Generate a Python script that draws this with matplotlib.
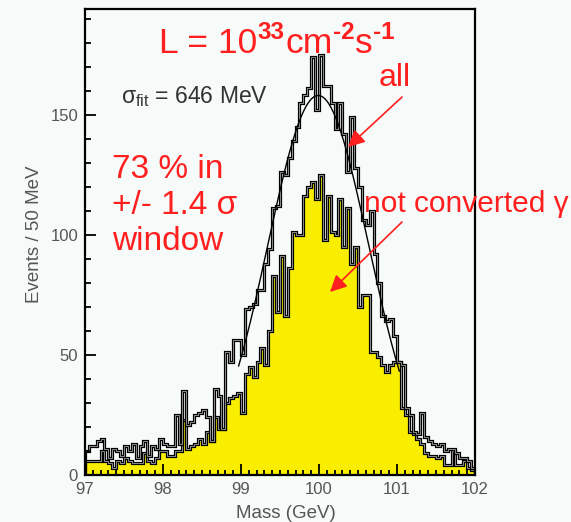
import numpy as np
import matplotlib
matplotlib.use("Agg")
import matplotlib.pyplot as plt
from matplotlib.ticker import MultipleLocator

plt.rcParams['font.family'] = ['Liberation Sans', 'DejaVu Sans']
plt.rcParams['mathtext.fontset'] = 'custom'
plt.rcParams['mathtext.rm'] = 'Liberation Sans'
plt.rcParams['mathtext.it'] = 'Liberation Sans:italic'
plt.rcParams['mathtext.bf'] = 'Liberation Sans:bold'

# Diphoton mass spectrum, 50 MeV bins from 97 to 102 GeV
mass_lo, mass_hi, n_bins = 97.0, 102.0, 100

all_counts = [
    10, 12, 12, 14, 15, 11, 7, 11, 10, 8,
    12, 10, 13, 7, 12, 14, 8, 12, 11, 15,
    13, 12, 12, 25, 13, 35, 21, 22, 25, 26,
    27, 24, 14, 36, 33, 19, 51, 47, 56, 56,
    50, 69, 70, 71, 77, 77, 88, 94, 111, 112,
    126, 125, 132, 139, 145, 155, 158, 161, 174, 152,
    175, 162, 162, 155, 144, 155, 142, 126, 149, 128,
    120, 106, 104, 110, 92, 80, 66, 64, 65, 58,
    47, 46, 28, 25, 18, 17, 26, 16, 14, 13,
    12, 13, 10, 11, 11, 9, 7, 7, 6, 3,
]

unconverted_counts = [
    6, 6, 6, 6, 10, 6, 5, 3, 6, 5,
    7, 6, 5, 5, 5, 9, 6, 5, 7, 10,
    10, 8, 8, 10, 10, 23, 11, 12, 13, 15,
    13, 18, 14, 24, 19, 19, 30, 32, 33, 34,
    26, 42, 45, 41, 47, 53, 46, 60, 83, 68,
    91, 66, 86, 101, 100, 100, 116, 120, 122, 115,
    125, 98, 116, 101, 100, 115, 95, 111, 88, 95,
    70, 75, 75, 51, 51, 49, 46, 43, 46, 47,
    47, 28, 25, 18, 17, 15, 13, 9, 8, 8,
    7, 8, 4, 4, 10, 4, 4, 6, 3, 2,
]

# gaussian fit to the full sample
fit_amp, fit_mean, fit_sigma = 158.0, 99.99, 0.646
fit_range = (98.97, 101.03)

edges = np.linspace(mass_lo, mass_hi, n_bins + 1)

bg = '#f6faf8'
red = '#ff1f1f'
fig = plt.figure(figsize=(5.71, 5.22), dpi=100, facecolor=bg)
ax = fig.add_axes([85 / 571, 47 / 522, 390 / 571, 466 / 522], facecolor=bg)


def hist_line(counts, **kw):
    # thick black edge with a grey core, like the old PAW/ROOT output
    ax.stairs(counts, edges, color='black', linewidth=2.3, **kw)
    ax.stairs(counts, edges, color='#8c8c8c', linewidth=0.7, **kw)


ax.stairs(unconverted_counts, edges, fill=True, color='#f9ee00', linewidth=0)
hist_line(unconverted_counts)
hist_line(all_counts)

xf = np.linspace(fit_range[0], fit_range[1], 300)
ax.plot(xf, fit_amp * np.exp(-0.5 * ((xf - fit_mean) / fit_sigma) ** 2),
        color='black', linewidth=1.0)

ax.set_xlim(mass_lo, mass_hi)
ax.set_ylim(0, 194)
ax.xaxis.set_major_locator(MultipleLocator(1))
ax.xaxis.set_minor_locator(MultipleLocator(0.1))
ax.yaxis.set_major_locator(MultipleLocator(50))
ax.yaxis.set_minor_locator(MultipleLocator(10))
ax.tick_params(which='both', direction='in', color='black', width=1.3,
               labelsize=12, labelcolor='#555555')
ax.tick_params(axis='x', which='major', length=8, pad=5)
ax.tick_params(axis='x', which='minor', length=3.5)
ax.tick_params(axis='y', which='major', length=8, pad=5)
ax.tick_params(axis='y', which='minor', length=4.5)
for s in ax.spines.values():
    s.set_linewidth(1.6)

ax.set_xlabel('Mass (GeV)', fontsize=13.5, color='#555555')
ax.set_ylabel('Events / 50 MeV', fontsize=13.5, color='#555555')
ax.xaxis.set_label_coords(0.514, -0.064)
ax.yaxis.set_label_coords(-0.108, 0.516)


def fx(px):
    return px / 571


def fy(py):
    return 1 - py / 522


renderer = fig.canvas.get_renderer()


def chain(x0, base, pieces):
    # write text pieces one after another, superscripts raised and bold
    x = x0
    for txt, size, weight, rise in pieces:
        t = fig.text(fx(x), fy(base - rise), txt, fontsize=size,
                     fontweight=weight, color=red, va='baseline')
        x = t.get_window_extent(renderer).x1 + 0.5


chain(159, 53, [('L = 10', 25.5, 'normal', 0), ('33', 17.5, 'bold', 14),
                ('cm', 25.5, 'normal', 0), ('-2', 17.5, 'bold', 14),
                ('s', 25.5, 'normal', 0), ('-1', 17.5, 'bold', 14)])

fig.text(fx(121), fy(103), r'$\mathrm{\sigma_{fit}}$ = 646 MeV',
         fontsize=16.5, color='#333333', va='baseline')
for txt, base in [('73 % in', 178), ('+/- 1.4 σ', 214), ('window', 250)]:
    fig.text(fx(112), fy(base), txt, fontsize=24, color=red, va='baseline')
fig.text(fx(379), fy(86), 'all', fontsize=23, color=red, va='baseline')
fig.text(fx(364), fy(212), 'not converted γ', fontsize=21.5, color=red, va='baseline')

arrow_kw = dict(arrowstyle='-|>,head_length=1.0,head_width=0.5',
                color=red, linewidth=1.2, shrinkA=0, shrinkB=0)
ax.annotate('', xy=(fx(348), fy(147)), xycoords='figure fraction',
            xytext=(fx(402), fy(97)), textcoords='figure fraction',
            arrowprops=arrow_kw)
ax.annotate('', xy=(fx(330), fy(292)), xycoords='figure fraction',
            xytext=(fx(402), fy(222)), textcoords='figure fraction',
            arrowprops=arrow_kw)

fig.savefig('out.png', dpi=100, facecolor=bg)
